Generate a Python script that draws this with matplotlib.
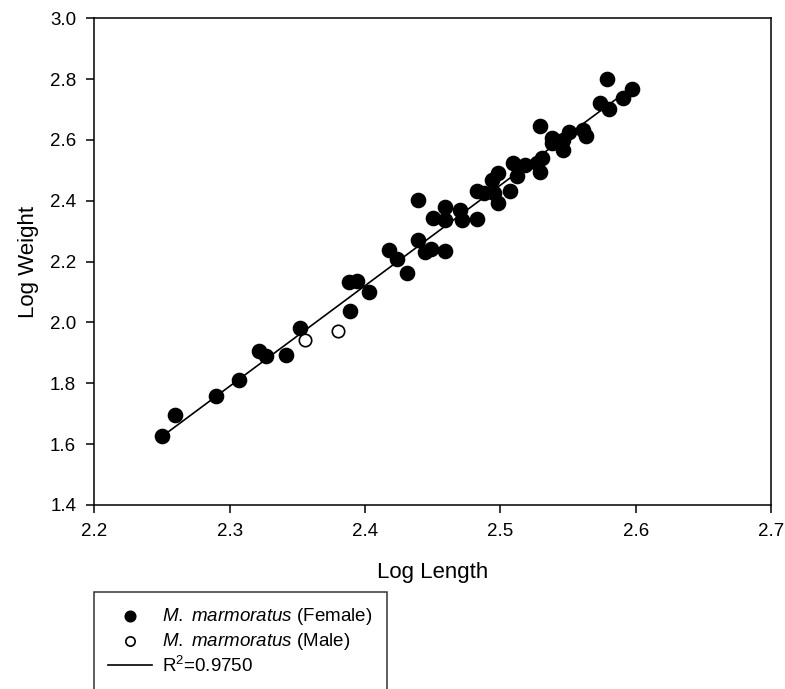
import numpy as np
import matplotlib
matplotlib.use("Agg")
import matplotlib.pyplot as plt

plt.rcParams['font.family'] = ['Liberation Sans', 'DejaVu Sans']
plt.rcParams['mathtext.fontset'] = 'custom'
plt.rcParams['mathtext.rm'] = 'Liberation Sans'
plt.rcParams['mathtext.it'] = 'Liberation Sans:italic'

# female points (log length, log weight)
female_x = [2.250, 2.260, 2.290, 2.307, 2.322, 2.327, 2.342, 2.352, 2.389, 2.388,
            2.394, 2.403, 2.439, 2.439, 2.418, 2.424, 2.431, 2.444, 2.449, 2.459,
            2.450, 2.459, 2.459, 2.470, 2.472, 2.483, 2.483, 2.488, 2.495, 2.498,
            2.494, 2.498, 2.507, 2.509, 2.518, 2.512, 2.529, 2.527, 2.531, 2.529,
            2.538, 2.538, 2.546, 2.546, 2.551, 2.561, 2.563, 2.574, 2.580, 2.579,
            2.591, 2.597]
female_y = [1.627, 1.696, 1.758, 1.811, 1.906, 1.890, 1.893, 1.982, 2.038, 2.133,
            2.136, 2.100, 2.403, 2.271, 2.238, 2.209, 2.163, 2.232, 2.242, 2.235,
            2.344, 2.337, 2.380, 2.370, 2.337, 2.340, 2.431, 2.426, 2.426, 2.393,
            2.468, 2.491, 2.432, 2.525, 2.518, 2.482, 2.495, 2.525, 2.541, 2.646,
            2.606, 2.590, 2.600, 2.567, 2.626, 2.633, 2.613, 2.721, 2.701, 2.800,
            2.738, 2.768]

# male points
male_x = [2.356, 2.380]
male_y = [1.943, 1.972]

# regression line ends
line_x = [2.250, 2.597]
line_y = [1.625, 2.772]

xticks = [2.2, 2.3, 2.4, 2.5, 2.6, 2.7]
yticks = [1.4, 1.6, 1.8, 2.0, 2.2, 2.4, 2.6, 2.8, 3.0]

fig = plt.figure(figsize=(7.85, 6.89), dpi=100)
ax = fig.add_axes([0.1201, 0.2671, 0.8621, 0.7063])

ax.scatter(female_x, female_y, s=105, c='black', edgecolors='black', zorder=3,
           label=r'$\it{M.\ marmoratus}$ (Female)')
ax.scatter(male_x, male_y, s=80, c='white', edgecolors='black', linewidths=1.2, zorder=3,
           label=r'$\it{M.\ marmoratus}$ (Male)')
ax.plot(line_x, line_y, color='black', lw=1.2, zorder=2, label=r'R$^2$=0.9750')

ax.set_xlim(2.2, 2.7)
ax.set_ylim(1.4, 3.0)
ax.set_xticks(xticks)
ax.set_yticks(yticks)
ax.set_xticklabels([f'{t:.1f}' for t in xticks])
ax.set_yticklabels([f'{t:.1f}' for t in yticks])
ax.tick_params(direction='out', length=6, width=1.1, labelsize=13.5, pad=7,
               top=False, right=False)
for sp in ax.spines.values():
    sp.set_linewidth(1.1)

ax.set_xlabel('Log Length', fontsize=16, labelpad=16)
ax.set_ylabel('Log Weight', fontsize=16, labelpad=8)

leg = fig.legend(loc='upper left', bbox_to_anchor=(94 / 785, 1 - 592 / 689),
                 fontsize=13.5, frameon=True, fancybox=False, edgecolor='black',
                 handlelength=2.35, handletextpad=0.55, borderpad=0.75,
                 labelspacing=0.2, borderaxespad=0, markerscale=0.75)
leg.get_frame().set_linewidth(1.1)

fig.savefig('out.png', dpi=100)
